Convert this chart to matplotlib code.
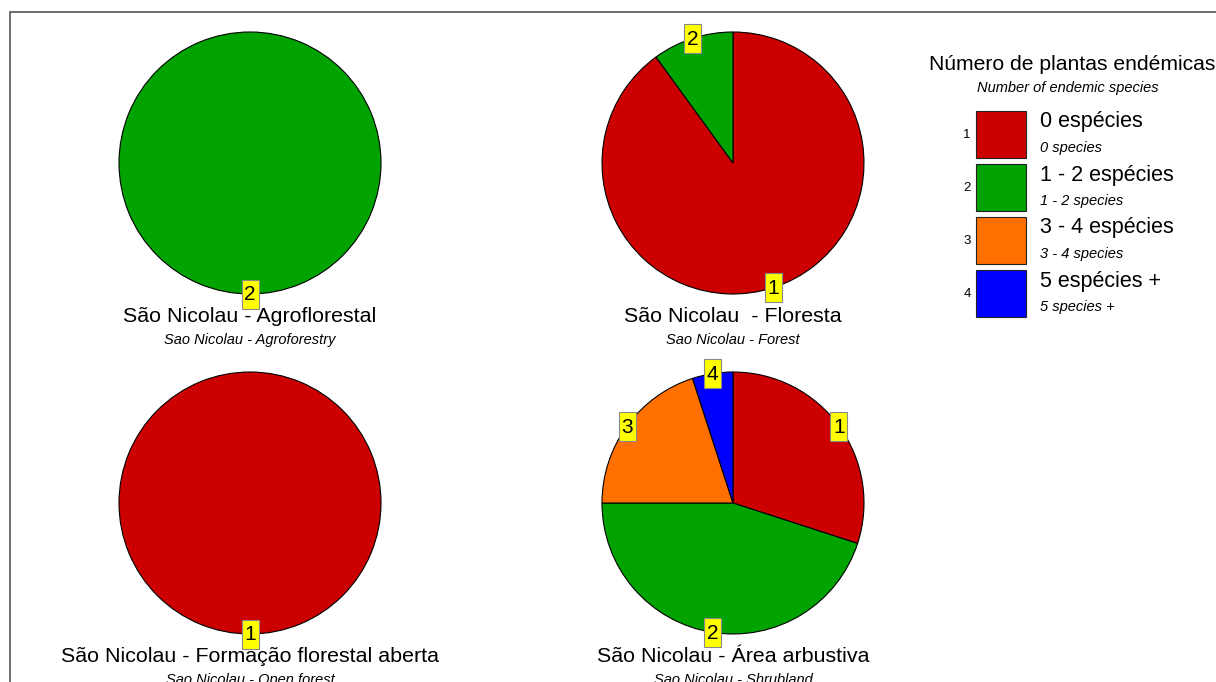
import matplotlib
matplotlib.use("Agg")
import matplotlib.pyplot as plt
import numpy as np

plt.rcParams['font.family'] = ['Liberation Sans', 'DejaVu Sans']

# ---- data ----
class_codes = ["1", "2", "3", "4"]
class_colors = ["#CC0000", "#00A300", "#FF7000", "#0000FF"]
legend_title = "Número de plantas endémicas"
legend_subtitle = "Number of endemic species"
legend_labels_pt = ["0 espécies", "1 - 2 espécies", "3 - 4 espécies", "5 espécies +"]
legend_labels_en = ["0 species", "1 - 2 species", "3 - 4 species", "5 species +"]

pie_titles_pt = ["São Nicolau - Agroflorestal", "São Nicolau  - Floresta",
                 "São Nicolau - Formação florestal aberta", "São Nicolau - Área arbustiva"]
pie_titles_en = ["Sao Nicolau - Agroforestry", "Sao Nicolau - Forest",
                 "Sao Nicolau - Open forest", "Sao Nicolau - Shrubland"]
# percentage share per class (1..4) for each pie
agro_values = [0, 100, 0, 0]
forest_values = [90, 10, 0, 0]
open_forest_values = [100, 0, 0, 0]
shrub_values = [30, 45, 20, 5]
pie_values = [agro_values, forest_values, open_forest_values, shrub_values]

# ---- layout (pixel coordinates, y measured from top) ----
W, H = 1216, 682
fig = plt.figure(figsize=(W / 100, H / 100), dpi=100)
ax = fig.add_axes([0, 0, 1, 1])
ax.set_xlim(0, W)
ax.set_ylim(0, H)
ax.axis('off')

def Y(y):
    return H - y

centers = [(250, 163), (733, 163), (250, 503), (733, 503)]
radius = 131
title_offsets = (154, 177)
lab_w, lab_h = 17, 29

for vals, (cx, cy), tpt, ten in zip(pie_values, centers, pie_titles_pt, pie_titles_en):
    idx = [i for i, v in enumerate(vals) if v > 0]
    v = [vals[i] for i in idx]
    cols = [class_colors[i] for i in idx]
    wedges, _ = ax.pie(v, colors=cols, startangle=90, counterclock=False,
                       center=(cx, Y(cy)), radius=radius, frame=True,
                       wedgeprops=dict(edgecolor='black', linewidth=0.8))
    for w, i in zip(wedges, idx):
        mid = np.deg2rad((w.theta1 + w.theta2) / 2)
        lx = cx + radius * np.cos(mid)
        ly = Y(cy) + radius * np.sin(mid)
        ax.add_patch(plt.Rectangle((lx - lab_w / 2, ly - lab_h / 2), lab_w, lab_h,
                                   facecolor='#FFFF00', edgecolor='#888888',
                                   linewidth=0.8, zorder=5))
        ax.text(lx, ly - 1, class_codes[i], ha='center', va='center', fontsize=15,
                zorder=6)
    ax.text(cx, Y(cy + title_offsets[0]), tpt, ha='center', va='center', fontsize=15.4)
    ax.text(cx, Y(cy + title_offsets[1]), ten, ha='center', va='center', fontsize=10.5,
            style='italic')

ax.set_xlim(0, W)
ax.set_ylim(0, H)
ax.set_aspect('auto')

# ---- legend ----
ax.text(1072, Y(64), legend_title, ha='center', va='center', fontsize=15.2)
ax.text(1068, Y(88), legend_subtitle, ha='center', va='center', fontsize=10.5,
        style='italic')
box_tops = [111, 164, 217, 270]
for code, col, lp, le, top in zip(class_codes, class_colors, legend_labels_pt,
                                  legend_labels_en, box_tops):
    ax.add_patch(plt.Rectangle((976, Y(top + 47)), 50, 47, facecolor=col,
                               edgecolor='#222222', linewidth=0.8))
    ax.text(967, Y(top + 24), code, ha='center', va='center', fontsize=9.5)
    ax.text(1040, Y(top + 11), lp, ha='left', va='center', fontsize=15.5)
    ax.text(1040, Y(top + 37), le, ha='left', va='center', fontsize=10.5, style='italic')

# ---- frame ----
ax.plot([10, 10, W], [0, Y(12), Y(12)], color='#555555', linewidth=1.2,
        solid_joinstyle='miter')

fig.savefig("out.png", dpi=100)
